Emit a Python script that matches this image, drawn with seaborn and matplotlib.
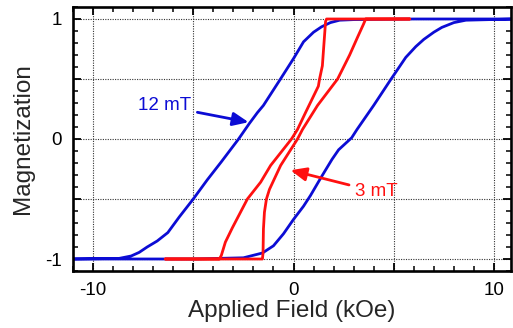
import matplotlib
matplotlib.use("Agg")
import matplotlib.pyplot as plt
from matplotlib.ticker import MultipleLocator, FuncFormatter
import seaborn as sns
import pandas as pd

# 12 mT loop (blue): descending branch then ascending branch
blue_desc_x = [11, 6, 3.0, 2.3, 1.84, 1.4, 1.0, 0.5, 0.0, -0.65, -1.5, -1.8, -2.2, -2.74,
               -3.6, -4.3, -5.0, -5.7, -6.27, -6.8, -7.3, -7.7, -8.1, -8.7, -11]
blue_desc_y = [1, 1, 0.995, 0.99, 0.97, 0.935, 0.89, 0.81, 0.67, 0.5, 0.28, 0.22, 0.13, 0.0,
               -0.19, -0.34, -0.5, -0.65, -0.78, -0.85, -0.9, -0.945, -0.975, -0.995, -1]
blue_asc_x = [-11, -5, -2.5, -1.55, -1.0, -0.5, 0.0, 0.5, 0.85, 1.34, 1.92, 2.25, 2.9,
              3.17, 4.0, 4.83, 5.6, 6.1, 6.5, 7.0, 7.4, 8.0, 8.6, 11]
blue_asc_y = [-1, -1, -0.99, -0.95, -0.89, -0.79, -0.67, -0.56, -0.47, -0.33, -0.17, -0.09,
              0.01, 0.08, 0.28, 0.49, 0.68, 0.77, 0.83, 0.89, 0.93, 0.97, 0.99, 1]

# 3 mT loop (red): descending branch then ascending branch
red_desc_x = [5.8, 1.65, 1.6, 1.5, 1.44, 1.3, 1.24, 0.6, 0.2, -0.1, -1.14, -1.64, -2.3,
              -2.8, -3.05, -3.4, -3.6, -3.7, -6.4]
red_desc_y = [1, 1, 0.98, 0.75, 0.61, 0.5, 0.44, 0.22, 0.08, 0.0, -0.22, -0.36, -0.5,
              -0.66, -0.74, -0.86, -0.97, -1, -1]
red_asc_x = [-6.4, -1.55, -1.52, -1.5, -1.45, -1.35, -1.2, -0.64, 0.2, 0.45, 1.2, 2.2,
             2.8, 3.2, 3.5, 3.6, 5.8]
red_asc_y = [-1, -1, -0.95, -0.75, -0.61, -0.5, -0.42, -0.22, 0.0, 0.08, 0.28, 0.5,
             0.7, 0.85, 0.96, 1, 1]

x_tick_labels = {-10: "-10", 0: "0", 10: "10"}
y_tick_labels = {-1: "-1", 0: "0", 1: "1"}
label_12 = "12 mT"
label_3 = "3 mT"

sns.set_style("white")
plt.rcParams["font.family"] = ["Liberation Sans", "DejaVu Sans"]
plt.rcParams["axes.unicode_minus"] = False

blue = "#0c0cd4"
red = "#ff1010"

fig = plt.figure(figsize=(5.13, 3.28), dpi=100)
ax = fig.add_axes([73 / 513, 1 - 271 / 328, (511 - 73) / 513, (271 - 7) / 328])

blue_df = pd.DataFrame({"x": blue_desc_x + blue_asc_x, "y": blue_desc_y + blue_asc_y})
red_df = pd.DataFrame({"x": red_desc_x + red_asc_x, "y": red_desc_y + red_asc_y})
sns.lineplot(data=blue_df, x="x", y="y", sort=False, estimator=None, color=blue, lw=2.0, ax=ax)
sns.lineplot(data=red_df, x="x", y="y", sort=False, estimator=None, color=red, lw=2.0, ax=ax)

ax.set_xlim(-11, 10.85)
ax.set_ylim(-1.1, 1.1)

ax.xaxis.set_major_locator(MultipleLocator(5))
ax.xaxis.set_minor_locator(MultipleLocator(1))
ax.yaxis.set_major_locator(MultipleLocator(0.5))
ax.yaxis.set_minor_locator(MultipleLocator(0.1))
ax.xaxis.set_major_formatter(FuncFormatter(lambda v, p: x_tick_labels.get(int(round(v)), "") if abs(v - round(v)) < 1e-6 else ""))
ax.yaxis.set_major_formatter(FuncFormatter(lambda v, p: y_tick_labels.get(int(round(v)), "") if abs(v - round(v)) < 1e-6 else ""))

ax.tick_params(which="both", direction="in", top=True, right=True, bottom=True, left=True,
               colors="black", labelsize=13.5)
ax.tick_params(which="major", length=6, width=1.3, pad=8)
ax.tick_params(which="minor", length=3.5, width=1.1)

ax.grid(True, which="major", color="#333333", linestyle=(0, (1, 1.2)), linewidth=0.8)
ax.set_axisbelow(True)
for s in ax.spines.values():
    s.set_visible(True)
    s.set_color("black")
    s.set_linewidth(1.9)

ax.set_xlabel("Applied Field (kOe)", fontsize=17.5, labelpad=1)
ax.set_ylabel("Magnetization", fontsize=17.5, labelpad=8)

ax.annotate(label_12, xy=(-2.24, 0.14), xytext=(-6.42, 0.275), color=blue, fontsize=13.5,
            ha="center", va="center",
            arrowprops=dict(arrowstyle="-|>,head_length=0.7,head_width=0.3", color=blue, lw=2,
                            shrinkA=2, shrinkB=0))
ax.annotate(label_3, xy=(-0.15, -0.26), xytext=(4.13, -0.44), color=red, fontsize=13.5,
            ha="center", va="center",
            arrowprops=dict(arrowstyle="-|>,head_length=0.7,head_width=0.3", color=red, lw=2,
                            shrinkA=2, shrinkB=0))

fig.savefig("out.png", dpi=100)
